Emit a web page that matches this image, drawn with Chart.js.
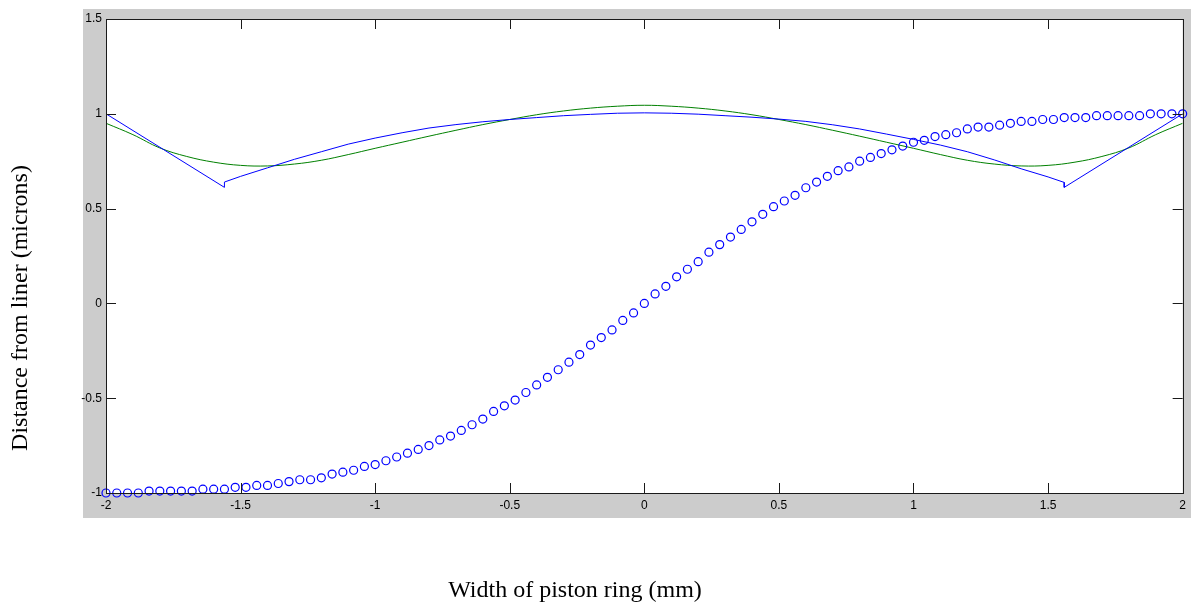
<!DOCTYPE html>
<html lang="en">
<head>
  <meta charset="UTF-8">
  <title>Piston ring profile</title>
  <style>
    body {
      margin: 0;
      background: #fff;
    }
    #chart {
      display: block;
    }
  </style>
</head>
<body>
  <canvas id="chart" width="1191" height="605"></canvas>

  <script src="https://cdn.jsdelivr.net/npm/chart.js"></script>
  <script>
    // axis ticks
    const xTickValues = [-2, -1.5, -1, -0.5, 0, 0.5, 1, 1.5, 2];
    const xTickLabels = ['-2', '-1.5', '-1', '-0.5', '0', '0.5', '1', '1.5', '2'];
    const yTickValues = [-1, -0.5, 0, 0.5, 1, 1.5];
    const yTickLabels = ['-1', '-0.5', '0', '0.5', '1', '1.5'];

    // open circles
    const circleX = [
      -2, -1.96, -1.92, -1.88, -1.84, -1.8, -1.76, -1.72, -1.68, -1.64,
      -1.6, -1.56, -1.52, -1.48, -1.44, -1.4, -1.36, -1.32, -1.28, -1.24,
      -1.2, -1.16, -1.12, -1.08, -1.04, -1, -0.96, -0.92, -0.88, -0.84,
      -0.8, -0.76, -0.72, -0.68, -0.64, -0.6, -0.56, -0.52, -0.48, -0.44,
      -0.4, -0.36, -0.32, -0.28, -0.24, -0.2, -0.16, -0.12, -0.08, -0.04,
      0,
      0.04, 0.08, 0.12, 0.16, 0.2, 0.24, 0.28, 0.32, 0.36, 0.4,
      0.44, 0.48, 0.52, 0.56, 0.6, 0.64, 0.68, 0.72, 0.76, 0.8,
      0.84, 0.88, 0.92, 0.96, 1, 1.04, 1.08, 1.12, 1.16, 1.2,
      1.24, 1.28, 1.32, 1.36, 1.4, 1.44, 1.48, 1.52, 1.56, 1.6,
      1.64, 1.68, 1.72, 1.76, 1.8, 1.84, 1.88, 1.92, 1.96, 2
    ];
    const circleY = [
      -1.0, -1.0, -1.0, -1.0, -0.99, -0.99, -0.99, -0.99, -0.99, -0.98,
      -0.98, -0.98, -0.97, -0.97, -0.96, -0.96, -0.95, -0.94, -0.93, -0.93,
      -0.92, -0.9, -0.89, -0.88, -0.86, -0.85, -0.83, -0.81, -0.79, -0.77,
      -0.75, -0.72, -0.7, -0.67, -0.64, -0.61, -0.57, -0.54, -0.51, -0.47,
      -0.43, -0.39, -0.35, -0.31, -0.27, -0.22, -0.18, -0.14, -0.09, -0.05,
      0,
      0.05, 0.09, 0.14, 0.18, 0.22, 0.27, 0.31, 0.35, 0.39, 0.43,
      0.47, 0.51, 0.54, 0.57, 0.61, 0.64, 0.67, 0.7, 0.72, 0.75,
      0.77, 0.79, 0.81, 0.83, 0.85, 0.86, 0.88, 0.89, 0.9, 0.92,
      0.93, 0.93, 0.94, 0.95, 0.96, 0.96, 0.97, 0.97, 0.98, 0.98,
      0.98, 0.99, 0.99, 0.99, 0.99, 0.99, 1.0, 1.0, 1.0, 1.0
    ];

    // blue line (with the two kinks)
    const blueX = [
      -2, -1.56, -1.56, -1.5, -1.4, -1.3, -1.2, -1.1, -1, -0.9, -0.8, -0.7,
      -0.6, -0.5, -0.4, -0.3, -0.2, -0.1, 0, 0.1, 0.2, 0.3, 0.4, 0.5,
      0.6, 0.7, 0.8, 0.9, 1, 1.1, 1.2, 1.3, 1.4, 1.5, 1.56, 1.56, 2
    ];
    const blueY = [
      1.0, 0.612, 0.64, 0.67, 0.715, 0.76, 0.8, 0.84, 0.872, 0.9, 0.925, 0.943,
      0.958, 0.97, 0.98, 0.99, 0.997, 1.003, 1.005, 1.003, 0.998, 0.99, 0.982, 0.972,
      0.96, 0.942, 0.92, 0.893, 0.865, 0.835, 0.8, 0.757, 0.71, 0.667, 0.638, 0.612, 1.0
    ];

    // green line
    const greenX = [
      -2, -1.9, -1.8, -1.7, -1.6, -1.5, -1.4, -1.3, -1.2, -1.1, -1,
      -0.9, -0.8, -0.7, -0.6, -0.5, -0.4, -0.3, -0.2, -0.1, 0,
      0.1, 0.2, 0.3, 0.4, 0.5, 0.6, 0.7, 0.8, 0.9, 1,
      1.1, 1.2, 1.3, 1.4, 1.5, 1.6, 1.7, 1.8, 1.9, 2
    ];
    const greenY = [
      0.95, 0.89, 0.82, 0.775, 0.745, 0.728, 0.725, 0.735, 0.755, 0.785, 0.818,
      0.85, 0.882, 0.913, 0.943, 0.97, 0.995, 1.015, 1.03, 1.04, 1.045,
      1.04, 1.03, 1.015, 0.995, 0.97, 0.943, 0.913, 0.882, 0.85, 0.818,
      0.785, 0.755, 0.735, 0.725, 0.728, 0.745, 0.775, 0.82, 0.89, 0.95
    ];

    const xTitle = 'Width of piston ring (mm)';
    const yTitle = 'Distance from liner (microns)';

    const toPoints = (xs, ys) => xs.map((x, i) => ({ x: x, y: ys[i] }));

    // matlab style figure: grey frame, boxed axes, ticks pointing inward
    const figurePlugin = {
      id: 'figure',
      beforeDraw(chart) {
        const ctx = chart.ctx;
        const a = chart.chartArea;
        ctx.save();
        ctx.fillStyle = '#ffffff';
        ctx.fillRect(0, 0, chart.width, chart.height);
        ctx.fillStyle = '#cccccc';
        ctx.fillRect(83, 9, chart.width - 83, 509);
        ctx.fillStyle = '#ffffff';
        ctx.fillRect(a.left, a.top, a.right - a.left, a.bottom - a.top);
        ctx.restore();
      },
      afterDraw(chart) {
        const ctx = chart.ctx;
        const a = chart.chartArea;
        const xs = chart.scales.x;
        const ys = chart.scales.y;
        const len = 10;
        ctx.save();
        ctx.strokeStyle = '#1a1a1a';
        ctx.lineWidth = 1;
        ctx.beginPath();
        xTickValues.forEach(v => {
          const px = Math.round(xs.getPixelForValue(v)) + 0.5;
          ctx.moveTo(px, a.bottom);
          ctx.lineTo(px, a.bottom - len);
          ctx.moveTo(px, a.top);
          ctx.lineTo(px, a.top + len);
        });
        yTickValues.forEach(v => {
          const py = Math.round(ys.getPixelForValue(v)) + 0.5;
          ctx.moveTo(a.left, py);
          ctx.lineTo(a.left + len, py);
          ctx.moveTo(a.right, py);
          ctx.lineTo(a.right - len, py);
        });
        ctx.stroke();
        ctx.strokeRect(Math.round(a.left) + 0.5, Math.round(a.top) + 0.5,
          Math.round(a.right - a.left), Math.round(a.bottom - a.top));

        ctx.fillStyle = '#000000';
        ctx.font = '24px "Liberation Serif", "Times New Roman", serif';
        ctx.textAlign = 'center';
        ctx.textBaseline = 'alphabetic';
        ctx.fillText(xTitle, 575, 597);

        ctx.translate(21, 308);
        ctx.rotate(-Math.PI / 2);
        ctx.textBaseline = 'middle';
        ctx.fillText(yTitle, 0, 0);
        ctx.restore();
      }
    };

    const tickFont = { family: '"Liberation Sans", Arial, sans-serif', size: 12 };

    new Chart(document.getElementById('chart').getContext('2d'), {
      type: 'scatter',
      data: {
        datasets: [
          {
            data: toPoints(circleX, circleY),
            showLine: false,
            pointStyle: 'circle',
            pointRadius: 4,
            pointBorderWidth: 1.2,
            pointBorderColor: '#0000ff',
            pointBackgroundColor: 'rgba(0,0,0,0)',
            clip: false
          },
          {
            data: toPoints(blueX, blueY),
            showLine: true,
            borderColor: '#0000ff',
            borderWidth: 1,
            pointRadius: 0,
            tension: 0
          },
          {
            data: toPoints(greenX, greenY),
            showLine: true,
            borderColor: '#008000',
            borderWidth: 1,
            pointRadius: 0,
            tension: 0.4
          }
        ]
      },
      options: {
        responsive: false,
        animation: false,
        events: [],
        layout: {
          padding: { top: 19, right: 8, left: 0, bottom: 0 }
        },
        plugins: {
          legend: { display: false },
          tooltip: { enabled: false }
        },
        scales: {
          x: {
            type: 'linear',
            min: -2,
            max: 2,
            afterFit: s => { s.height = 112; },
            afterBuildTicks: s => { s.ticks = xTickValues.map(v => ({ value: v })); },
            grid: { display: false, drawTicks: false },
            border: { display: false },
            ticks: {
              autoSkip: false,
              maxRotation: 0,
              padding: 5,
              color: '#000000',
              font: tickFont,
              callback: (v, i) => xTickLabels[i]
            }
          },
          y: {
            type: 'linear',
            min: -1,
            max: 1.5,
            afterFit: s => { s.width = 106; },
            afterBuildTicks: s => { s.ticks = yTickValues.map(v => ({ value: v })); },
            grid: { display: false, drawTicks: false },
            border: { display: false },
            ticks: {
              autoSkip: false,
              padding: 4,
              color: '#000000',
              font: tickFont,
              callback: (v, i) => yTickLabels[i]
            }
          }
        }
      },
      plugins: [figurePlugin]
    });
  </script>
</body>
</html>
